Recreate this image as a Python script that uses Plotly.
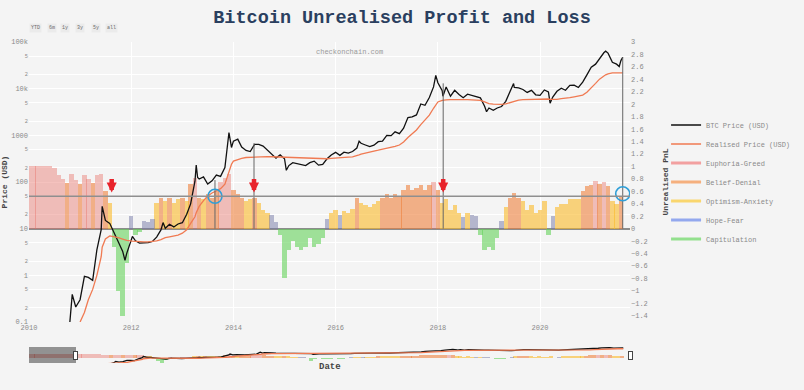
import pandas as pd
import plotly.graph_objects as go

# ---------------- data ----------------
price_dates = [
    "2010-07-17", "2010-08-01", "2010-09-01", "2010-10-01", "2010-10-20", "2010-11-06", "2010-12-01",
    "2011-01-01", "2011-02-01", "2011-03-01", "2011-04-01", "2011-05-01", "2011-06-01", "2011-06-08",
    "2011-07-01", "2011-08-01", "2011-09-01", "2011-10-01", "2011-11-01", "2011-11-18", "2011-12-01",
    "2012-01-10", "2012-02-01", "2012-03-01", "2012-04-01", "2012-05-01", "2012-06-01", "2012-07-01",
    "2012-08-01", "2012-08-16", "2012-09-01", "2012-10-01", "2012-11-01", "2012-12-01",
    "2013-01-01", "2013-02-01", "2013-03-01", "2013-04-01", "2013-04-10", "2013-04-20", "2013-05-01",
    "2013-06-01", "2013-07-01", "2013-08-01", "2013-09-01", "2013-10-01", "2013-11-01", "2013-11-30",
    "2013-12-18",
    "2014-01-01", "2014-02-01", "2014-03-01", "2014-04-01", "2014-05-01", "2014-06-01", "2014-07-01",
    "2014-08-01", "2014-09-01", "2014-10-01", "2014-11-01", "2014-12-01",
    "2015-01-01", "2015-01-14", "2015-02-01", "2015-03-01", "2015-04-01", "2015-05-01", "2015-06-01",
    "2015-07-01", "2015-08-01", "2015-09-01", "2015-10-01", "2015-11-01", "2015-12-01",
    "2016-01-01", "2016-02-01", "2016-03-01", "2016-04-01", "2016-05-01", "2016-06-01", "2016-06-17",
    "2016-07-01", "2016-08-01", "2016-09-01", "2016-10-01", "2016-11-01", "2016-12-01",
    "2017-01-01", "2017-02-01", "2017-03-01", "2017-04-01", "2017-05-01", "2017-06-01", "2017-07-01",
    "2017-08-01", "2017-09-01", "2017-10-01", "2017-11-01", "2017-12-01", "2017-12-17",
    "2018-01-01", "2018-02-01", "2018-02-06", "2018-03-01", "2018-04-01", "2018-05-01", "2018-06-01",
    "2018-07-01", "2018-08-01", "2018-09-01", "2018-10-01", "2018-11-01", "2018-12-01", "2018-12-15",
    "2019-01-01", "2019-02-01", "2019-03-01", "2019-04-01", "2019-05-01", "2019-06-01", "2019-06-26",
    "2019-07-01", "2019-08-01", "2019-09-01", "2019-10-01", "2019-11-01", "2019-12-01",
    "2020-01-01", "2020-02-01", "2020-03-01", "2020-03-13", "2020-04-01", "2020-05-01", "2020-06-01",
    "2020-07-01", "2020-08-01", "2020-09-01", "2020-10-01", "2020-11-01", "2020-12-01",
    "2021-01-01", "2021-02-01", "2021-03-01", "2021-04-01", "2021-04-14", "2021-05-01", "2021-06-01",
    "2021-07-01", "2021-07-20", "2021-08-01", "2021-08-14",
]
btc_price = [
    0.05, 0.065, 0.062, 0.062, 0.10, 0.39, 0.21,
    0.30, 0.95, 0.90, 0.78, 3.5, 9.5, 30,
    15, 13, 8.2, 5.0, 3.3, 2.1, 3.0,
    6.8, 5.5, 4.9, 4.9, 5.0, 5.3, 6.6,
    9.4, 13.5, 10.2, 12.4, 10.9, 12.6,
    13.4, 20.4, 34, 104, 230, 125, 116,
    129, 90, 106, 141, 132, 204, 1150,
    550,
    750, 830, 560, 475, 450, 640, 640,
    590, 475, 385, 325, 380,
    315, 178, 225, 260, 245, 235, 225,
    260, 280, 230, 238, 314, 380,
    432, 372, 435, 416, 450, 535, 750,
    675, 620, 572, 615, 730, 755,
    1000, 985, 1190, 1090, 1420, 2410, 2480,
    2740, 4700, 4400, 6450, 10900, 19300,
    13400, 9100, 6900, 10900, 6900, 9250, 7500,
    6400, 7600, 7200, 6600, 6350, 4200, 3200,
    3850, 3450, 3850, 4150, 5350, 8550, 12900,
    10600, 10400, 9600, 8300, 9200, 7400,
    7200, 9380, 8550, 4900, 6600, 8800, 10200,
    9230, 11800, 11900, 10600, 13800, 19700,
    29000, 33500, 45000, 58800, 63500, 57800, 36700,
    33500, 29800, 39900, 47000,
]
realised_price = [
    0.04, 0.045, 0.05, 0.05, 0.055, 0.06, 0.07,
    0.10, 0.16, 0.30, 0.50, 1.0, 2.5, 4.0,
    6.0, 7.0, 6.8, 6.4, 6.0, 5.8, 5.6,
    5.4, 5.3, 5.2, 5.2, 5.2, 5.3, 5.5,
    5.8, 6.1, 6.4, 6.7, 7.0, 7.3,
    8.0, 9.5, 13, 18, 22, 26, 30,
    40, 50, 58, 65, 72, 90, 170,
    240,
    280, 305, 320, 335, 340, 345, 350,
    350, 350, 348, 345, 342,
    340, 335, 330, 325, 322, 320, 318,
    316, 315, 314, 313, 315, 320,
    328, 332, 336, 340, 345, 360, 380,
    395, 420, 440, 460, 480, 500,
    520, 545, 580, 620, 720, 900, 1100,
    1300, 1700, 2100, 2700, 3800, 4600,
    5200, 5600, 5650, 5750, 5800, 5850, 5850,
    5800, 5800, 5750, 5700, 5600, 5200, 5000,
    4800, 4650, 4600, 4600, 4700, 5000, 5400,
    5500, 5700, 5800, 5850, 5900, 5850,
    5800, 5900, 6000, 5900, 5850, 5900, 6100,
    6200, 6400, 6700, 6900, 7300, 8400,
    10300, 13000, 16000, 18800, 19800, 20800, 21800,
    21800, 21600, 21500, 21800,
]

# monthly unrealised PnL, Jan 2009 .. Aug 2021
nupl_values = [
    1.00, 1.00, 1.00, 1.00, 1.00, 1.00, 1.00, 1.00, 1.00, 1.00, 1.00, 1.00,   # 2009
    1.00, 1.00, 1.00, 1.00, 1.00, 1.00, 0.97, 0.86, 0.80, 0.74, 0.88, 0.78,   # 2010
    0.72, 0.86, 0.80, 0.74, 0.86, 0.88, 0.60, 0.42, -0.30, -1.00, -1.40, -0.55,  # 2011
    0.20, -0.10, -0.05, 0.12, 0.10, 0.15, 0.42, 0.50, 0.45, 0.50, 0.42, 0.48,  # 2012
    0.50, 0.45, 0.72, 0.82, 0.50, 0.47, 0.55, 0.50, 0.60, 0.75, 0.82, 0.88,   # 2013
    0.62, 0.56, 0.50, 0.45, 0.47, 0.50, 0.42, 0.30, 0.25, 0.22, 0.10, -0.10,  # 2014
    -0.80, -0.35, -0.20, -0.30, -0.35, -0.30, -0.15, -0.30, -0.25, -0.15, 0.15, 0.25,  # 2015
    0.30, 0.22, 0.28, 0.25, 0.32, 0.50, 0.42, 0.38, 0.35, 0.40, 0.45, 0.50,   # 2016
    0.55, 0.50, 0.55, 0.52, 0.62, 0.70, 0.62, 0.65, 0.70, 0.62, 0.70, 0.75,   # 2017
    0.62, 0.42, 0.48, 0.30, 0.38, 0.25, 0.18, 0.25, 0.22, 0.20, -0.10, -0.35,  # 2018
    -0.30, -0.35, -0.15, 0.12, 0.35, 0.50, 0.57, 0.50, 0.45, 0.30, 0.38, 0.25,  # 2019
    0.30, 0.45, -0.10, 0.20, 0.35, 0.40, 0.40, 0.48, 0.47, 0.48, 0.60, 0.68,   # 2020
    0.70, 0.76, 0.72, 0.75, 0.68, 0.45, 0.40, 0.53,                           # 2021
]
nupl_dates = pd.date_range("2009-01-01", periods=len(nupl_values), freq="MS")

regime_names = ["Euphoria-Greed", "Belief-Denial", "Optimism-Anxiety", "Hope-Fear", "Capitulation"]
regime_floor = [0.75, 0.5, 0.25, 0.0, -99]
regime_ceiling = [99, 0.75, 0.5, 0.25, 0.0]

event_dates = ["2013-08-22", "2014-05-28", "2018-02-08", "2021-08-14"]
event_prices = [110, 680, 13000, 47000]
arrow_dates = ["2011-08-15", "2014-05-28", "2018-02-08"]
circle_dates = ["2013-08-22", "2021-08-14"]
circle_nupl = [0.52, 0.56]
range_buttons = ["YTD", "6m", "1y", "3y", "5y", "all"]

# ---------------- styling ----------------
regime_fill = ["rgba(232,110,100,0.42)", "rgba(238,128,60,0.60)", "rgba(250,185,40,0.60)",
               "rgba(115,120,165,0.50)", "rgba(100,210,90,0.60)"]
regime_legend = ["#f2a0a0", "#f5b07e", "#f9d66e", "#93a8ee", "#93e08e"]
MONO = "Liberation Mono"
BG = "#f4f4f4"
BAR_W = 31 * 24 * 3600 * 1000
button_px = [35, 51.5, 65, 80, 96, 111.5]   # centres of the range-selector labels (pixels)
PLOT_L, PLOT_W, PLOT_H = 29, 601, 280

fig = go.Figure()

for name, lo, hi, col in zip(regime_names, regime_floor, regime_ceiling, regime_fill):
    ys = [v if (lo <= v < hi) else None for v in nupl_values]
    fig.add_trace(go.Bar(x=nupl_dates, y=ys, width=BAR_W, yaxis="y", name=name,
                         legendgroup=name, showlegend=False,
                         marker=dict(color=col, line=dict(width=0))))

fig.add_trace(go.Scatter(x=price_dates, y=btc_price, mode="lines", yaxis="y2",
                         name="BTC Price (USD)", line=dict(color="#111111", width=1.3)))
fig.add_trace(go.Scatter(x=price_dates, y=realised_price, mode="lines", yaxis="y2",
                         name="Realised Price (USD)", line=dict(color="#f07a52", width=1.3)))

for name, col in zip(regime_names, regime_legend):
    fig.add_trace(go.Scatter(x=[None], y=[None], mode="lines", yaxis="y2", name=name,
                             legendgroup=name, line=dict(color=col, width=3)))

# vertical marker lines from the zero line (price 10 on the log axis) up to the price
for d, p in zip(event_dates, event_prices):
    fig.add_shape(type="line", xref="x", yref="y2", x0=d, x1=d, y0=10, y1=p,
                  line=dict(color="#666666", width=1))

# circles
for d, v in zip(circle_dates, circle_nupl):
    fig.add_shape(type="circle", xref="x", yref="y", xsizemode="pixel", ysizemode="pixel",
                  xanchor=d, yanchor=v, x0=-7, x1=7, y0=-7, y1=7,
                  line=dict(color="#2f9fd8", width=1.6))

# 0.5 guide line
fig.add_shape(type="line", xref="paper", x0=0, x1=1, yref="y", y0=0.52, y1=0.52,
              line=dict(color="#8f8f8f", width=1.5))

for d in arrow_dates:
    fig.add_annotation(x=d, y=0.58, xref="x", yref="y", text="", showarrow=True,
                       ax=0, ay=-15, arrowhead=2, arrowsize=0.45, arrowwidth=4.5,
                       arrowcolor="#e8232b")

fig.add_annotation(x=0.534, y=0.985, xref="paper", yref="paper", text="checkonchain.com",
                   showarrow=False, font=dict(family=MONO, size=7, color="#9a9a9a"))

# x-axis title placed like the reference (just below the range slider)
fig.add_annotation(x=(330 - PLOT_L) / PLOT_W, y=-(367 - 322) / PLOT_H, xref="paper", yref="paper",
                   text="<b>Date</b>", showarrow=False, xanchor="center", yanchor="middle",
                   font=dict(family=MONO, size=9, color="#444444"))

for lab, px in zip(range_buttons, button_px):
    fig.add_annotation(x=(px - PLOT_L) / PLOT_W, y=1.05, xref="paper", yref="paper",
                       text=lab, showarrow=False, xanchor="center", yanchor="middle",
                       bgcolor="#ebebeb", borderpad=1,
                       font=dict(family=MONO, size=5, color="#6a6a6a"))

fig.update_layout(
    width=804, height=390,
    margin=dict(l=29, r=174, t=42, b=68, autoexpand=False),
    paper_bgcolor=BG, plot_bgcolor=BG,
    font=dict(family=MONO, size=7, color="#8a8a8a"),
    title=dict(text="<b>Bitcoin Unrealised Profit and Loss</b>", x=0.5, xanchor="center",
               y=0.957, yanchor="middle",
               font=dict(family=MONO, size=18.5, color="#2a3f5f")),
    barmode="overlay", bargap=0,
    showlegend=True,
    legend=dict(x=1.06, xanchor="left", y=0.5, yanchor="middle", tracegroupgap=0,
                bgcolor="rgba(0,0,0,0)", font=dict(family=MONO, size=7, color="#8a8a8a")),
    xaxis=dict(
        type="date", range=["2010-01-01", "2021-10-05"], dtick="M24", tick0="2010-01-01",
        tickformat="%Y", showgrid=True, gridcolor="#ffffff", zeroline=False, showline=False,
        tickfont=dict(size=7, color="#8a8a8a"),
        rangeslider=dict(visible=True, thickness=0.057, autorange=False,
                         range=["2009-01-03", "2021-10-05"], bgcolor=BG, borderwidth=0),
    ),
    yaxis=dict(
        side="right", range=[-1.5, 3], dtick=0.2, showgrid=False,
        zeroline=True, zerolinecolor="#8c8c8c", zerolinewidth=2,
        tickfont=dict(size=7, color="#8a8a8a"),
        title=dict(text="<b>Unrealised PnL</b>", font=dict(family=MONO, size=8, color="#444444")),
    ),
    yaxis2=dict(
        type="log", range=[-1, 5], dtick="D2", overlaying="y", side="left",
        showgrid=True, gridcolor="#ffffff", zeroline=False,
        tickfont=dict(size=7, color="#8a8a8a"),
        title=dict(text="<b>Price (USD)</b>", font=dict(family=MONO, size=8, color="#444444"),
                   standoff=2),
    ),
)

fig.write_html("out.html", config={"displayModeBar": False},
               post_script="document.body.style.margin='0px';"
                           "document.body.style.background='#f4f4f4';")
